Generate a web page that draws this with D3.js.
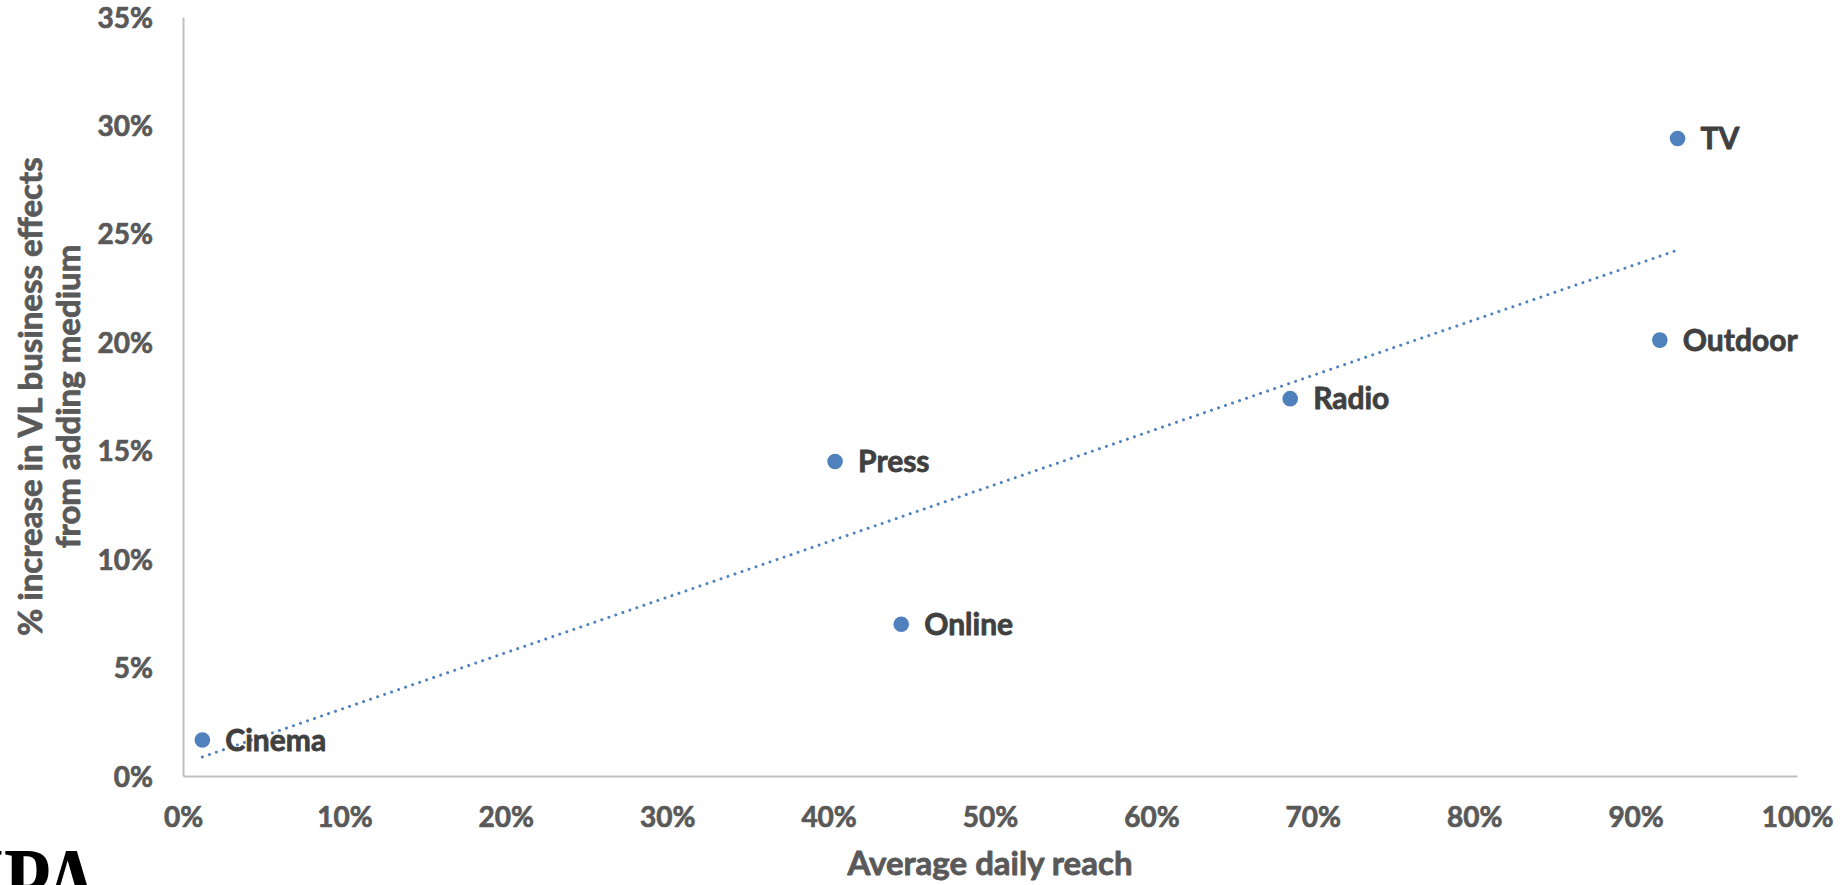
<!DOCTYPE html>
<html>
<head>
<meta charset="utf-8">
<script src="https://cdn.jsdelivr.net/npm/d3@7"></script>
<style>
  html, body { margin: 0; padding: 0; background: #fff; overflow: hidden; }
  svg { display: block; }
</style>
</head>
<body>
<svg id="chart" width="1844" height="885"></svg>
<script>
// Media channels: average daily reach (x, %) vs uplift in very-long business effects (y, %)
const media = ["Cinema", "Press", "Online", "Radio", "Outdoor", "TV"];
const reach = [1.2, 40.4, 44.5, 68.6, 91.5, 92.6];
const uplift = [1.66, 14.5, 7.0, 17.4, 20.1, 29.4];

const xTicks = [0, 10, 20, 30, 40, 50, 60, 70, 80, 90, 100];
const yTicks = [0, 5, 10, 15, 20, 25, 30, 35];

const xTitle = "Average daily reach";
const yTitleLines = ["% increase in VL business effects", "from adding medium"];

const svg = d3.select("#chart");
const W = 1844, H = 885;
const margin = { left: 183, right: W - 1797, top: 17, bottom: H - 776 };

const x = d3.scaleLinear().domain([0, 100]).range([margin.left, W - margin.right]);
const y = d3.scaleLinear().domain([0, 35]).range([H - margin.bottom, margin.top]);

const blue = "#4f81bd";
const axisGrey = "#bfbfbf";
const tickText = "#595959";
const labelText = "#404040";
const font = "Lato, 'Open Sans', sans-serif";

// Heavier bold text: fill plus a thin matching outline
function boldText(sel, color, size, weight) {
  sel.attr("fill", color).attr("stroke", color).attr("stroke-width", weight)
     .attr("stroke-linejoin", "round")
     .attr("font-family", font).attr("font-weight", 700).attr("font-size", size);
}

// Axes (lines only, no tick marks)
const xAxis = d3.axisBottom(x).tickValues(xTicks).tickSize(0).tickFormat(d => d + "%").tickPadding(0);
const yAxis = d3.axisLeft(y).tickValues(yTicks).tickSize(0).tickFormat(d => d + "%").tickPadding(0);

const gx = svg.append("g").attr("transform", `translate(0,${y(0)})`).call(xAxis);
gx.select(".domain").attr("stroke", axisGrey).attr("stroke-width", 2);
gx.selectAll("text").call(boldText, tickText, 28, 0.7)
  .attr("dy", null).attr("y", 51);

const gy = svg.append("g").attr("transform", `translate(${x(0)},0)`).call(yAxis);
gy.select(".domain").attr("stroke", axisGrey).attr("stroke-width", 2);
gy.selectAll("text").call(boldText, tickText, 28, 0.7)
  .attr("x", -30).attr("dy", "0.36em");

// Linear least-squares trendline across the observed reach range
const n = reach.length;
const mx = d3.mean(reach), my = d3.mean(uplift);
let sxy = 0, sxx = 0;
for (let i = 0; i < n; i++) {
  sxy += (reach[i] - mx) * (uplift[i] - my);
  sxx += (reach[i] - mx) ** 2;
}
const slope = sxy / sxx, intercept = my - slope * mx;
const [xmin, xmax] = d3.extent(reach);

svg.append("line")
  .attr("x1", x(xmin)).attr("y1", y(intercept + slope * xmin))
  .attr("x2", x(xmax)).attr("y2", y(intercept + slope * xmax))
  .attr("stroke", blue).attr("stroke-width", 3)
  .attr("stroke-linecap", "round").attr("stroke-dasharray", "0.01 7.4");

// Points and labels
const pts = media.map((m, i) => ({ m, rx: reach[i], uy: uplift[i] }));
svg.append("g").selectAll("circle").data(pts).join("circle")
  .attr("cx", d => x(d.rx)).attr("cy", d => y(d.uy)).attr("r", 7.8)
  .attr("fill", blue);

svg.append("g").selectAll("text").data(pts).join("text")
  .attr("x", d => x(d.rx) + 23).attr("y", d => y(d.uy)).attr("dy", "0.36em")
  .call(boldText, labelText, 30, 0.8)
  .text(d => d.m);

// Axis titles
svg.append("text")
  .attr("x", (x(0) + x(100)) / 2).attr("y", 875).attr("text-anchor", "middle")
  .call(boldText, tickText, 33, 0.8)
  .text(xTitle);

const yt = svg.append("text")
  .attr("transform", `translate(42,${(y(0) + y(35)) / 2}) rotate(-90)`)
  .attr("text-anchor", "middle")
  .call(boldText, tickText, 33, 0.8);
yt.selectAll("tspan").data(yTitleLines).join("tspan")
  .attr("x", 0).attr("y", (d, i) => i * 38).text(d => d);

// Publisher mark, cropped at the lower-left corner
const logo = svg.append("text")
  .attr("transform", "translate(0,915) scale(0.78,1)")
  .attr("fill", "#000")
  .attr("font-family", "'Liberation Serif', 'DejaVu Serif', serif")
  .attr("font-weight", 700).attr("font-size", 98);
logo.append("tspan").attr("x", -33).text("I");
logo.append("tspan").attr("x", 5).text("P");
logo.append("tspan").attr("x", 56).text("A");
</script>
</body>
</html>
